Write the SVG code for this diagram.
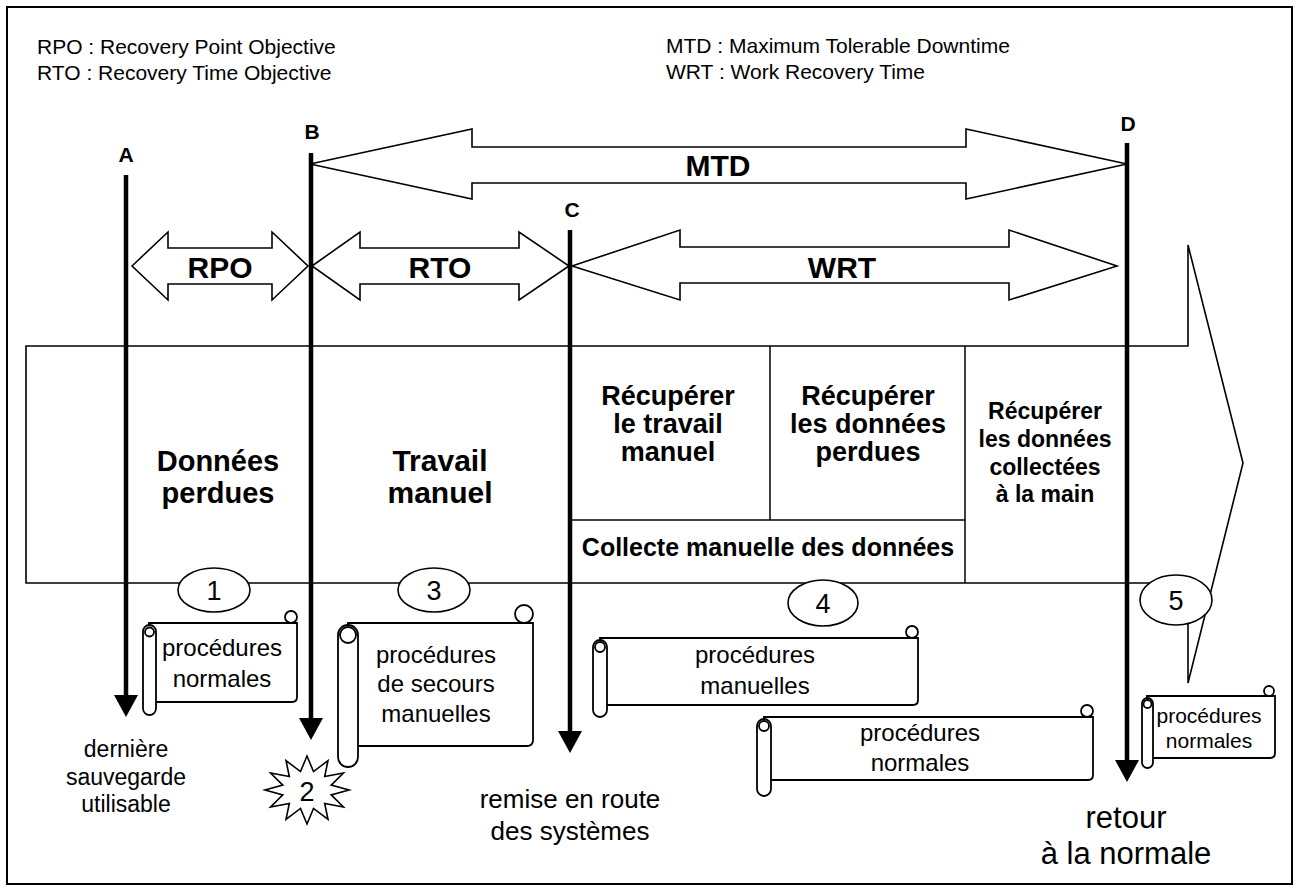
<svg xmlns="http://www.w3.org/2000/svg" width="1298" height="890" viewBox="0 0 1298 890">
<style>
text{font-family:"Liberation Sans",Arial,Helvetica,sans-serif;fill:#000}
.hd{font-size:21px}
.lt{font-size:21px;font-weight:bold;text-anchor:middle}
.big{font-size:30px;font-weight:bold;text-anchor:middle}
.bd{font-weight:bold;text-anchor:middle}
.rg{text-anchor:middle}
.blk{fill:#fff;stroke:#000;stroke-width:1.6;stroke-linejoin:miter}
.thin{stroke:#000;stroke-width:1.5;fill:none}
.ax{stroke:#000;stroke-width:4.5;fill:none}
.el{fill:#fff;stroke:#000;stroke-width:1.6}
.sc{fill:#fff;stroke:#000;stroke-width:1.8}
.num{font-size:27px;text-anchor:middle}
.pt{font-size:24px;text-anchor:middle}
</style>
<defs>
<marker id="ah" markerUnits="userSpaceOnUse" viewBox="0 0 22 24" refX="12" refY="12" markerWidth="22" markerHeight="24" orient="auto">
<path d="M0,0 L22,12 L0,24 Z" fill="#000"/>
</marker>
</defs>
<rect x="7" y="7" width="1285" height="877" fill="#fff" stroke="#000" stroke-width="2"/>

<g id="legend">
<text class="hd" x="37" y="54">RPO : Recovery Point Objective</text>
<text class="hd" x="37" y="80">RTO : Recovery Time Objective</text>
<text class="hd" x="666" y="53">MTD : Maximum Tolerable Downtime</text>
<text class="hd" x="666" y="79">WRT : Work Recovery Time</text>
</g>

<g id="timeline-band">
<path class="blk" d="M26,346 L1188,346 L1188,245 L1243,463 L1188,683 L1188,583 L26,583 Z"/>
<line class="thin" x1="770" y1="346" x2="770" y2="520"/>
<line class="thin" x1="570" y1="520" x2="965" y2="520"/>
<line class="thin" x1="965" y1="346" x2="965" y2="583"/>
</g>

<g id="band-texts">
<text class="bd" x="218" y="471" font-size="29">Données</text>
<text class="bd" x="218" y="503" font-size="29">perdues</text>
<text class="bd" x="440" y="471" font-size="30">Travail</text>
<text class="bd" x="440" y="503" font-size="30">manuel</text>
<text class="bd" x="668" y="405" font-size="27">Récupérer</text>
<text class="bd" x="668" y="433" font-size="27">le travail</text>
<text class="bd" x="668" y="461" font-size="27">manuel</text>
<text class="bd" x="868" y="405" font-size="27">Récupérer</text>
<text class="bd" x="868" y="433" font-size="27">les données</text>
<text class="bd" x="868" y="461" font-size="27">perdues</text>
<text class="bd" x="1045" y="419" font-size="23">Récupérer</text>
<text class="bd" x="1045" y="447" font-size="23">les données</text>
<text class="bd" x="1045" y="475" font-size="23">collectées</text>
<text class="bd" x="1045" y="502" font-size="23">à la main</text>
<text class="bd" x="768" y="556" font-size="25">Collecte manuelle des données</text>
</g>

<g id="connectors">
<path class="blk" d="M310,164 L472,129 L472,147 L966,147 L966,129 L1127,164 L966,199 L966,183 L472,183 L472,199 Z"/>
<path class="blk" d="M132,266 L168,232 L168,248 L272,248 L272,232 L308,266 L272,300 L272,284 L168,284 L168,300 Z"/>
<path class="blk" d="M312,266 L360,232 L360,248 L519,248 L519,232 L569,266 L519,300 L519,284 L360,284 L360,300 Z"/>
<path class="blk" d="M572,266 L680,230 L680,247 L1009,247 L1009,230 L1117,266 L1009,300 L1009,283 L680,283 L680,300 Z"/>
<line class="ax" x1="126" y1="175" x2="126" y2="707" marker-end="url(#ah)"/>
<line class="ax" x1="311" y1="153" x2="311" y2="730" marker-end="url(#ah)"/>
<line class="ax" x1="570" y1="230" x2="570" y2="743" marker-end="url(#ah)"/>
<line class="ax" x1="1127" y1="143" x2="1127" y2="772" marker-end="url(#ah)"/>
</g>

<g id="interval-labels">
<text class="big" x="220" y="278">RPO</text>
<text class="big" x="440" y="278">RTO</text>
<text class="big" x="842" y="278">WRT</text>
<text class="big" x="718" y="176">MTD</text>
</g>

<g id="points">
<text class="lt" x="126" y="162">A</text>
<text class="lt" x="312" y="139">B</text>
<text class="lt" x="572" y="217">C</text>
<text class="lt" x="1128" y="131">D</text>
</g>

<g id="phase-1"><ellipse class="el" cx="214" cy="590" rx="36" ry="22"/><text class="num" x="214" y="600">1</text></g>
<g id="phase-3"><ellipse class="el" cx="434" cy="590" rx="36" ry="22"/><text class="num" x="434" y="600">3</text></g>
<g id="phase-4"><ellipse class="el" cx="823" cy="603" rx="35" ry="23"/><text class="num" x="823" y="613">4</text></g>
<g id="phase-5"><ellipse class="el" cx="1176" cy="600" rx="36" ry="25"/><text class="num" x="1176" y="610">5</text></g>

<g id="event-2">
<polygon class="el" points="307,756 313.5,771.6 328,760.6 324.7,776.6 343.4,773 331.2,785.1 349,790 331.2,794.9 343.4,807 324.7,803.4 328,819.4 313.5,808.4 307,824 300.5,808.4 286,819.4 289.3,803.4 270.6,807 282.8,794.9 265,790 282.8,785.1 270.6,773 289.3,776.6 286,760.6 300.5,771.6"/>
<text class="num" x="307" y="801" font-size="28">2</text>
</g>

<g id="scroll-1">
<path class="sc" d="M149,623 L297,623 L297,697 Q297,702 292,702 L149,702 Z"/>
<circle class="sc" cx="291" cy="617" r="6"/>
<rect class="sc" x="143" y="625" width="13" height="90" rx="6.5"/>
<circle class="sc" cx="149.5" cy="632" r="4.5"/>
<text class="pt" x="222" y="656">procédures</text>
<text class="pt" x="222" y="687">normales</text>
</g>

<g id="scroll-2">
<path class="sc" d="M348,623 L533,623 L533,740 Q533,746 527,746 L348,746 Z"/>
<circle class="sc" cx="524" cy="614" r="9"/>
<rect class="sc" x="338" y="625" width="20" height="142" rx="10"/>
<circle class="sc" cx="348" cy="635" r="8"/>
<text class="pt" x="436" y="663">procédures</text>
<text class="pt" x="436" y="692">de secours</text>
<text class="pt" x="436" y="722">manuelles</text>
</g>

<g id="scroll-3">
<path class="sc" d="M600,638 L918,638 L918,700 Q918,705 913,705 L600,705 Z"/>
<circle class="sc" cx="912" cy="632" r="6"/>
<rect class="sc" x="593" y="640" width="14" height="77" rx="7"/>
<circle class="sc" cx="600" cy="647" r="5"/>
<text class="pt" x="755" y="663">procédures</text>
<text class="pt" x="755" y="694">manuelles</text>
</g>

<g id="scroll-4">
<path class="sc" d="M764,717 L1093,717 L1093,775 Q1093,780 1088,780 L764,780 Z"/>
<circle class="sc" cx="1087" cy="711" r="6"/>
<rect class="sc" x="757" y="719" width="14" height="77" rx="7"/>
<circle class="sc" cx="764" cy="726" r="5"/>
<text class="pt" x="920" y="741">procédures</text>
<text class="pt" x="920" y="771">normales</text>
</g>

<g id="scroll-5">
<path class="sc" d="M1147,696 L1275,696 L1275,753 Q1275,758 1270,758 L1147,758 Z"/>
<circle class="sc" cx="1269" cy="691" r="5"/>
<rect class="sc" x="1142" y="698" width="11" height="70" rx="5.5"/>
<circle class="sc" cx="1147.5" cy="704" r="4"/>
<text class="pt" x="1209" y="723" style="font-size:21px">procédures</text>
<text class="pt" x="1209" y="748" style="font-size:21px">normales</text>
</g>

<g id="bottom-labels">
<text class="rg" x="126" y="757" font-size="23">dernière</text>
<text class="rg" x="126" y="785" font-size="23">sauvegarde</text>
<text class="rg" x="126" y="812" font-size="23">utilisable</text>
<text class="rg" x="570" y="808" font-size="26">remise en route</text>
<text class="rg" x="570" y="840" font-size="26">des systèmes</text>
<text class="rg" x="1126" y="828" font-size="31">retour</text>
<text class="rg" x="1126" y="864" font-size="31">à la normale</text>
</g>
</svg>
